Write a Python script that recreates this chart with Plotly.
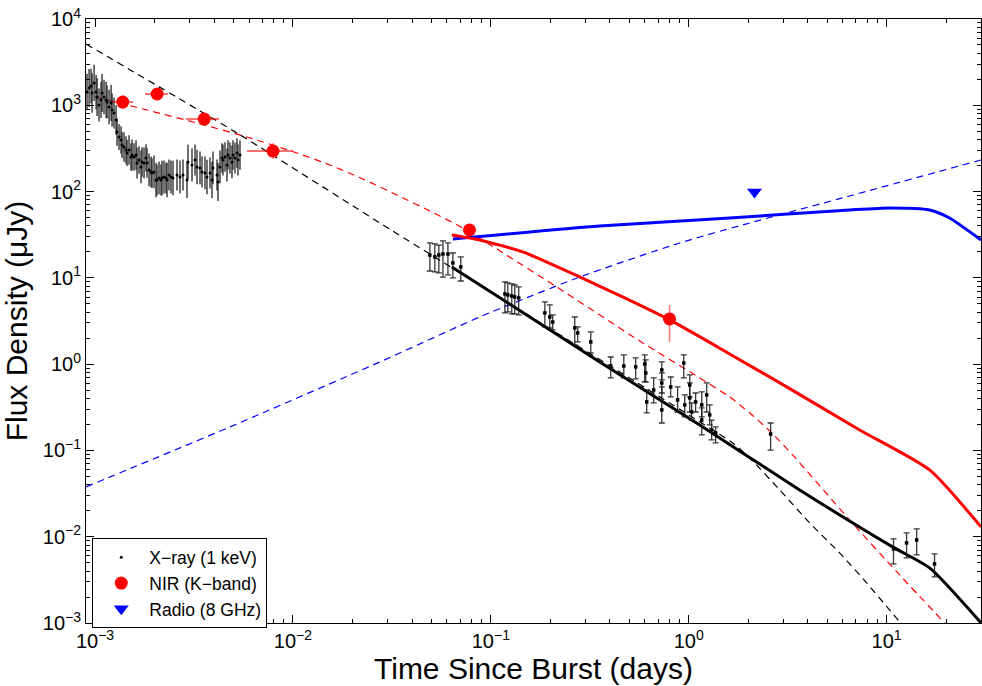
import numpy as np
import plotly.graph_objects as go

# ---------------- data ----------------
# Early X-ray light curve (days, microJy) and error half-width (dex)
xr_early_t = [0.911e-3, 0.933e-3, 0.955e-3, 0.966e-3, 0.989e-3, 1.012e-3, 1.024e-3, 1.047e-3, 1.072e-3, 1.085e-3,
              1.110e-3, 1.137e-3, 1.150e-3, 1.177e-3, 1.205e-3, 1.219e-3, 1.247e-3, 1.277e-3, 1.291e-3, 1.322e-3,
              1.353e-3, 1.369e-3, 1.401e-3, 1.434e-3, 1.451e-3, 1.485e-3, 1.520e-3, 1.538e-3, 1.574e-3, 1.611e-3,
              1.630e-3, 1.668e-3, 1.708e-3, 1.727e-3, 1.768e-3, 1.809e-3, 1.830e-3, 1.874e-3, 1.918e-3, 1.940e-3,
              1.986e-3, 2.033e-3, 2.056e-3, 2.105e-3, 2.154e-3, 2.180e-3, 2.231e-3, 2.284e-3, 2.310e-3, 2.364e-3,
              2.420e-3, 2.477e-3, 2.595e-3, 2.688e-3, 2.783e-3, 2.915e-3, 2.949e-3, 3.090e-3, 3.200e-3, 3.275e-3,
              3.391e-3, 3.471e-3, 3.594e-3, 3.679e-3, 3.809e-3, 3.899e-3, 3.945e-3, 4.133e-3, 4.181e-3, 4.279e-3,
              4.380e-3, 4.431e-3, 4.535e-3, 4.642e-3, 4.696e-3, 4.806e-3, 4.919e-3, 4.977e-3, 5.094e-3, 5.214e-3,
              5.275e-3, 5.399e-3]
xr_early_f = [1426, 1587, 1673, 1388, 1813, 1426, 1248, 1008, 1152, 1388,
              1248, 1152, 1092, 955.6, 1063, 882, 814, 675.5, 490.5, 429,
              396, 346.7, 328.7, 303.4, 280.1, 303.4, 251.7, 265.5, 251.7, 265.5,
              214.5, 232.4, 192.8, 220.3, 214.5, 245.1, 214.5, 178, 168.7, 164.3,
              168.7, 136.3, 136.3, 143.8, 136.3, 143.8, 147.6, 143.8, 136.3, 155.7,
              147.6, 143.8, 155.7, 147.6, 155.7, 136.3, 220.3, 203.3, 232.4, 192.8,
              187.7, 168.7, 164.3, 147.6, 164.3, 136.3, 187.7, 155.7, 129.2, 192.8,
              245.1, 232.4, 251.7, 203.3, 265.5, 245.1, 220.3, 265.5, 245.1, 280.1,
              232.4, 265.5]
xr_early_err_dex = [0.21, 0.22, 0.20, 0.23, 0.21, 0.20, 0.22, 0.19, 0.21, 0.22,
                    0.20, 0.21, 0.19, 0.20, 0.21, 0.19, 0.18, 0.17, 0.16, 0.15,
                    0.16, 0.15, 0.17, 0.16, 0.15, 0.17, 0.16, 0.18, 0.16, 0.17,
                    0.18, 0.16, 0.19, 0.17, 0.18, 0.16, 0.17, 0.19, 0.18, 0.17,
                    0.19, 0.20, 0.18, 0.19, 0.18, 0.20, 0.19, 0.18, 0.20, 0.18,
                    0.19, 0.20, 0.18, 0.19, 0.18, 0.21, 0.20, 0.19, 0.18, 0.20,
                    0.19, 0.18, 0.19, 0.20, 0.18, 0.21, 0.19, 0.18, 0.22, 0.19,
                    0.17, 0.18, 0.17, 0.19, 0.17, 0.18, 0.19, 0.17, 0.18, 0.17,
                    0.18, 0.17]

# Later X-ray data (days, microJy, upper, lower)
xr_late_t = [0.0492, 0.0521, 0.0546, 0.0573, 0.0607, 0.0643, 0.0705,
             0.1178, 0.1219, 0.1276, 0.1321, 0.1383,
             0.1875, 0.1986, 0.2055, 0.2655, 0.2748, 0.3199, 0.4036, 0.4699, 0.5395,
             0.5995, 0.6066, 0.6136, 0.6653, 0.7311, 0.7311, 0.7311, 0.8110, 0.879, 0.944,
             0.955, 1.012, 1.012, 1.035, 1.084, 1.164, 1.164, 1.233, 1.277, 1.306, 1.368,
             2.594, 10.84, 12.62, 14.19, 17.47]
xr_late_f = [18.4, 17.5, 18.4, 18.9, 18.9, 14.9, 13.4,
             6.51, 6.34, 6.17, 6.01, 5.85,
             3.92, 3.52, 3.08, 2.63, 2.30, 1.81, 0.953, 0.953, 0.929,
             1.005, 0.791, 0.365, 0.502, 0.857, 0.605, 0.2946, 0.544, 0.385, 1.03,
             0.337, 0.574, 0.406, 0.279, 0.365, 0.337, 0.225, 0.440, 0.258, 0.173, 0.1595,
             0.155, 0.00723, 0.00847, 0.00918, 0.00484]
xr_late_hi = [25.4, 24.7, 24.0, 26.8, 25.4, 19.4, 17.5,
              8.96, 8.73, 8.50, 8.27, 7.85,
              5.26, 4.85, 3.72, 3.52, 2.70, 2.36, 1.21, 1.28, 1.18,
              1.28, 1.118, 0.502, 0.692, 1.06, 0.791, 0.544, 0.710, 0.544, 1.28,
              0.440, 0.750, 0.605, 0.355, 0.463, 0.476, 0.311, 0.605, 0.337, 0.225, 0.1872,
              0.208, 0.00944, 0.0111, 0.0123, 0.00632]
xr_late_lo = [12.0, 11.7, 11.4, 10.2, 10.8, 9.97, 9.2,
              3.92, 4.03, 3.82, 3.82, 3.72,
              2.70, 2.63, 2.49, 1.67, 1.81, 1.35, 0.692, 0.692, 0.674,
              0.622, 0.622, 0.272, 0.355, 0.656, 0.463, 0.208, 0.417, 0.279, 0.692,
              0.2445, 0.417, 0.279, 0.225, 0.279, 0.2445, 0.1512, 0.279, 0.1974, 0.1323, 0.1221,
              0.101, 0.00484, 0.00568, 0.00615, 0.00342]

# NIR K-band points
nir_t = [1.38e-3, 2.06e-3, 3.56e-3, 7.93e-3, 0.078, 0.80]
nir_t_lo = [1.23e-3, 1.79e-3, 2.88e-3, 5.86e-3, 0.078, 0.80]
nir_t_hi = [1.56e-3, 2.34e-3, 4.23e-3, 1.0e-2, 0.078, 0.80]
nir_f = [1090, 1352, 693, 295, 35.9, 3.34]
nir_f_hi = [1311, 1500, 790, 365, 41.0, 4.85]
nir_f_lo = [906, 1217, 608, 238, 31.4, 1.81]

# Radio 8 GHz upper limit
radio_t = [2.15]
radio_f = [98.9]

# Model curves
xfs_t = [9.0e-4, 5.214e-3, 0.02751, 0.1, 1.0, 1.668, 2.033, 2.882, 4.084, 5.788, 7.925, 10.35, 12.33]
xfs_f = [5132, 477.5, 43.27, 6.866, 0.2579, 0.1222, 0.0818, 0.0349, 0.01445, 0.00649, 0.00292, 0.00142, 0.000877]

xtot_t = [0.0635, 0.3552, 1.137, 3.636, 10.72, 16.49, 30.0]
xtot_f = [13.37, 1.060, 0.1974, 0.03485, 0.00762, 0.00435, 0.001003]

nirfs_t = [1.0e-3, 1.830e-3, 3.275e-3, 5.859e-3, 1.047e-2, 1.538e-2, 2.257e-2, 3.351e-2, 4.918e-2,
           0.0722, 0.1072, 0.2154, 0.5655, 1.137, 1.611, 2.033, 2.566, 3.352, 6.503, 11.63, 20.09]
nirfs_f = [1248, 882, 623.6, 429, 280.1, 203.3, 140.0, 91.3, 59.6,
           37.86, 21.62, 7.846, 1.857, 0.692, 0.4169, 0.2720, 0.1683, 0.0887, 0.01565, 0.00361, 0.000951]

nirtot_t = [0.0635, 0.08799, 0.1451, 0.2815, 0.4750, 0.8015, 1.611, 3.236, 7.305, 16.49, 30.0]
nirtot_f = [31.41, 27.49, 19.96, 10.24, 5.85, 3.252, 1.313, 0.52, 0.1728, 0.05943, 0.01299]

radtot_t = [0.0643, 0.3552, 1.611, 6.503, 10.35, 16.49, 20.8, 30.0]
radtot_f = [28.24, 39.94, 49.44, 61.2, 64.6, 61.2, 49.44, 27.49]

radfs_t = [9.0e-4, 4.806e-3, 0.02751, 0.08799, 0.2815, 0.9005, 2.033, 6.503, 30.0]
radfs_f = [0.03777, 0.1872, 1.060, 3.524, 10.24, 25.38, 43.27, 88.9, 232.4]

x_tick_vals = [1e-3, 1e-2, 1e-1, 1, 10]
x_tick_text = ["10<sup>−3</sup>", "10<sup>−2</sup>", "10<sup>−1</sup>", "10<sup>0</sup>", "10<sup>1</sup>"]
y_tick_vals = [1e-3, 1e-2, 1e-1, 1, 10, 100, 1e3, 1e4]
y_tick_text = ["10<sup>−3</sup>", "10<sup>−2</sup>", "10<sup>−1</sup>", "10<sup>0</sup>",
               "10<sup>1</sup>", "10<sup>2</sup>", "10<sup>3</sup>", "10<sup>4</sup>"]

# ---------------- figure ----------------
FONT = "Liberation Sans, Arial, Helvetica, sans-serif"
fig = go.Figure()

def line(t, f, color, width, dash):
    fig.add_trace(go.Scatter(x=t, y=f, mode="lines", showlegend=False, hoverinfo="skip",
                             line=dict(color=color, width=width, dash=dash, shape="spline",
                                       smoothing=0.6)))

line(radfs_t, radfs_f, "#0000ff", 1.2, "7px,5px")
line(nirfs_t, nirfs_f, "#ff0000", 1.2, "7px,5px")
line(xfs_t, xfs_f, "#000000", 1.2, "7px,5px")
line(radtot_t, radtot_f, "#0000ff", 3, "solid")
line(nirtot_t, nirtot_f, "#ff0000", 3, "solid")
line(xtot_t, xtot_f, "#000000", 3, "solid")

xe_hi = [f * (10 ** e - 1) for f, e in zip(xr_early_f, xr_early_err_dex)]
xe_lo = [f * (1 - 10 ** (-e)) for f, e in zip(xr_early_f, xr_early_err_dex)]
fig.add_trace(go.Scatter(
    x=xr_early_t, y=xr_early_f, mode="markers", name="X−ray (1 keV)",
    marker=dict(color="black", size=3, symbol="circle"),
    error_y=dict(type="data", symmetric=False, array=xe_hi, arrayminus=xe_lo,
                 color="rgba(30,30,30,0.85)", thickness=1.5, width=0)))

xl_hi = [h - f for h, f in zip(xr_late_hi, xr_late_f)]
xl_lo = [f - l for f, l in zip(xr_late_f, xr_late_lo)]
fig.add_trace(go.Scatter(
    x=xr_late_t, y=xr_late_f, mode="markers", showlegend=False,
    marker=dict(color="black", size=3.5, symbol="square"),
    error_y=dict(type="data", symmetric=False, array=xl_hi, arrayminus=xl_lo,
                 color="rgba(20,20,20,0.85)", thickness=1.3, width=3)))

n_xhi = [h - t for h, t in zip(nir_t_hi, nir_t)]
n_xlo = [t - l for t, l in zip(nir_t, nir_t_lo)]
n_yhi = [h - f for h, f in zip(nir_f_hi, nir_f)]
n_ylo = [f - l for f, l in zip(nir_f, nir_f_lo)]
fig.add_trace(go.Scatter(
    x=nir_t, y=nir_f, mode="markers", name="NIR (K−band)",
    marker=dict(color="#ff0000", size=13, symbol="circle"),
    error_x=dict(type="data", symmetric=False, array=n_xhi, arrayminus=n_xlo,
                 color="rgba(255,0,0,0.75)", thickness=1.5, width=0),
    error_y=dict(type="data", symmetric=False, array=n_yhi, arrayminus=n_ylo,
                 color="rgba(255,0,0,0.55)", thickness=1.5, width=0)))

fig.add_trace(go.Scatter(
    x=radio_t, y=radio_f, mode="markers", name="Radio (8 GHz)",
    marker=dict(color="#0000ff", size=13, symbol="triangle-down")))

x_minor = [k * 10.0 ** n for n in range(-4, 2) for k in range(2, 10)]
y_minor = [k * 10.0 ** n for n in range(-3, 4) for k in range(2, 10)]

axis_common = dict(type="log", showgrid=False, zeroline=False, showline=True,
                   linecolor="black", linewidth=1, mirror="allticks", ticks="inside",
                   ticklen=8, tickwidth=1, tickcolor="black", automargin=False,
                   ticklabeloverflow="allow",
                   tickfont=dict(family=FONT, size=20, color="black"))

fig.update_xaxes(**axis_common, range=[np.log10(9e-4), np.log10(30)],
                 tickmode="array", tickvals=x_tick_vals, ticktext=x_tick_text,
                 minor=dict(tickmode="array", tickvals=x_minor, ticks="inside", ticklen=4,
                            tickcolor="black", showgrid=False),
                 title=dict(text="Time Since Burst (days)", standoff=2,
                            font=dict(family=FONT, size=30, color="black")))
fig.update_yaxes(**axis_common, range=[-3, 4],
                 tickmode="array", tickvals=y_tick_vals, ticktext=y_tick_text,
                 minor=dict(tickmode="array", tickvals=y_minor, ticks="inside", ticklen=4,
                            tickcolor="black", showgrid=False),
                 title=dict(text="Flux Density (μJy)", standoff=6,
                            font=dict(family=FONT, size=30, color="black")))

fig.update_layout(
    width=982, height=686,
    margin=dict(l=86, r=1, t=19, b=63),
    paper_bgcolor="white", plot_bgcolor="white",
    font=dict(family=FONT, color="black"),
    legend=dict(x=0.007, y=0.1400, xanchor="left", yanchor="top",
                bgcolor="white", bordercolor="black", borderwidth=1,
                font=dict(family=FONT, size=17.5, color="black"),
                tracegroupgap=0, itemwidth=46),
)

# remove the default 8 px page margin so the figure fills the window exactly
fig.write_html("out.html", config={"displayModeBar": False},
               post_script="document.body.style.margin='0';document.body.style.overflow='hidden';")
